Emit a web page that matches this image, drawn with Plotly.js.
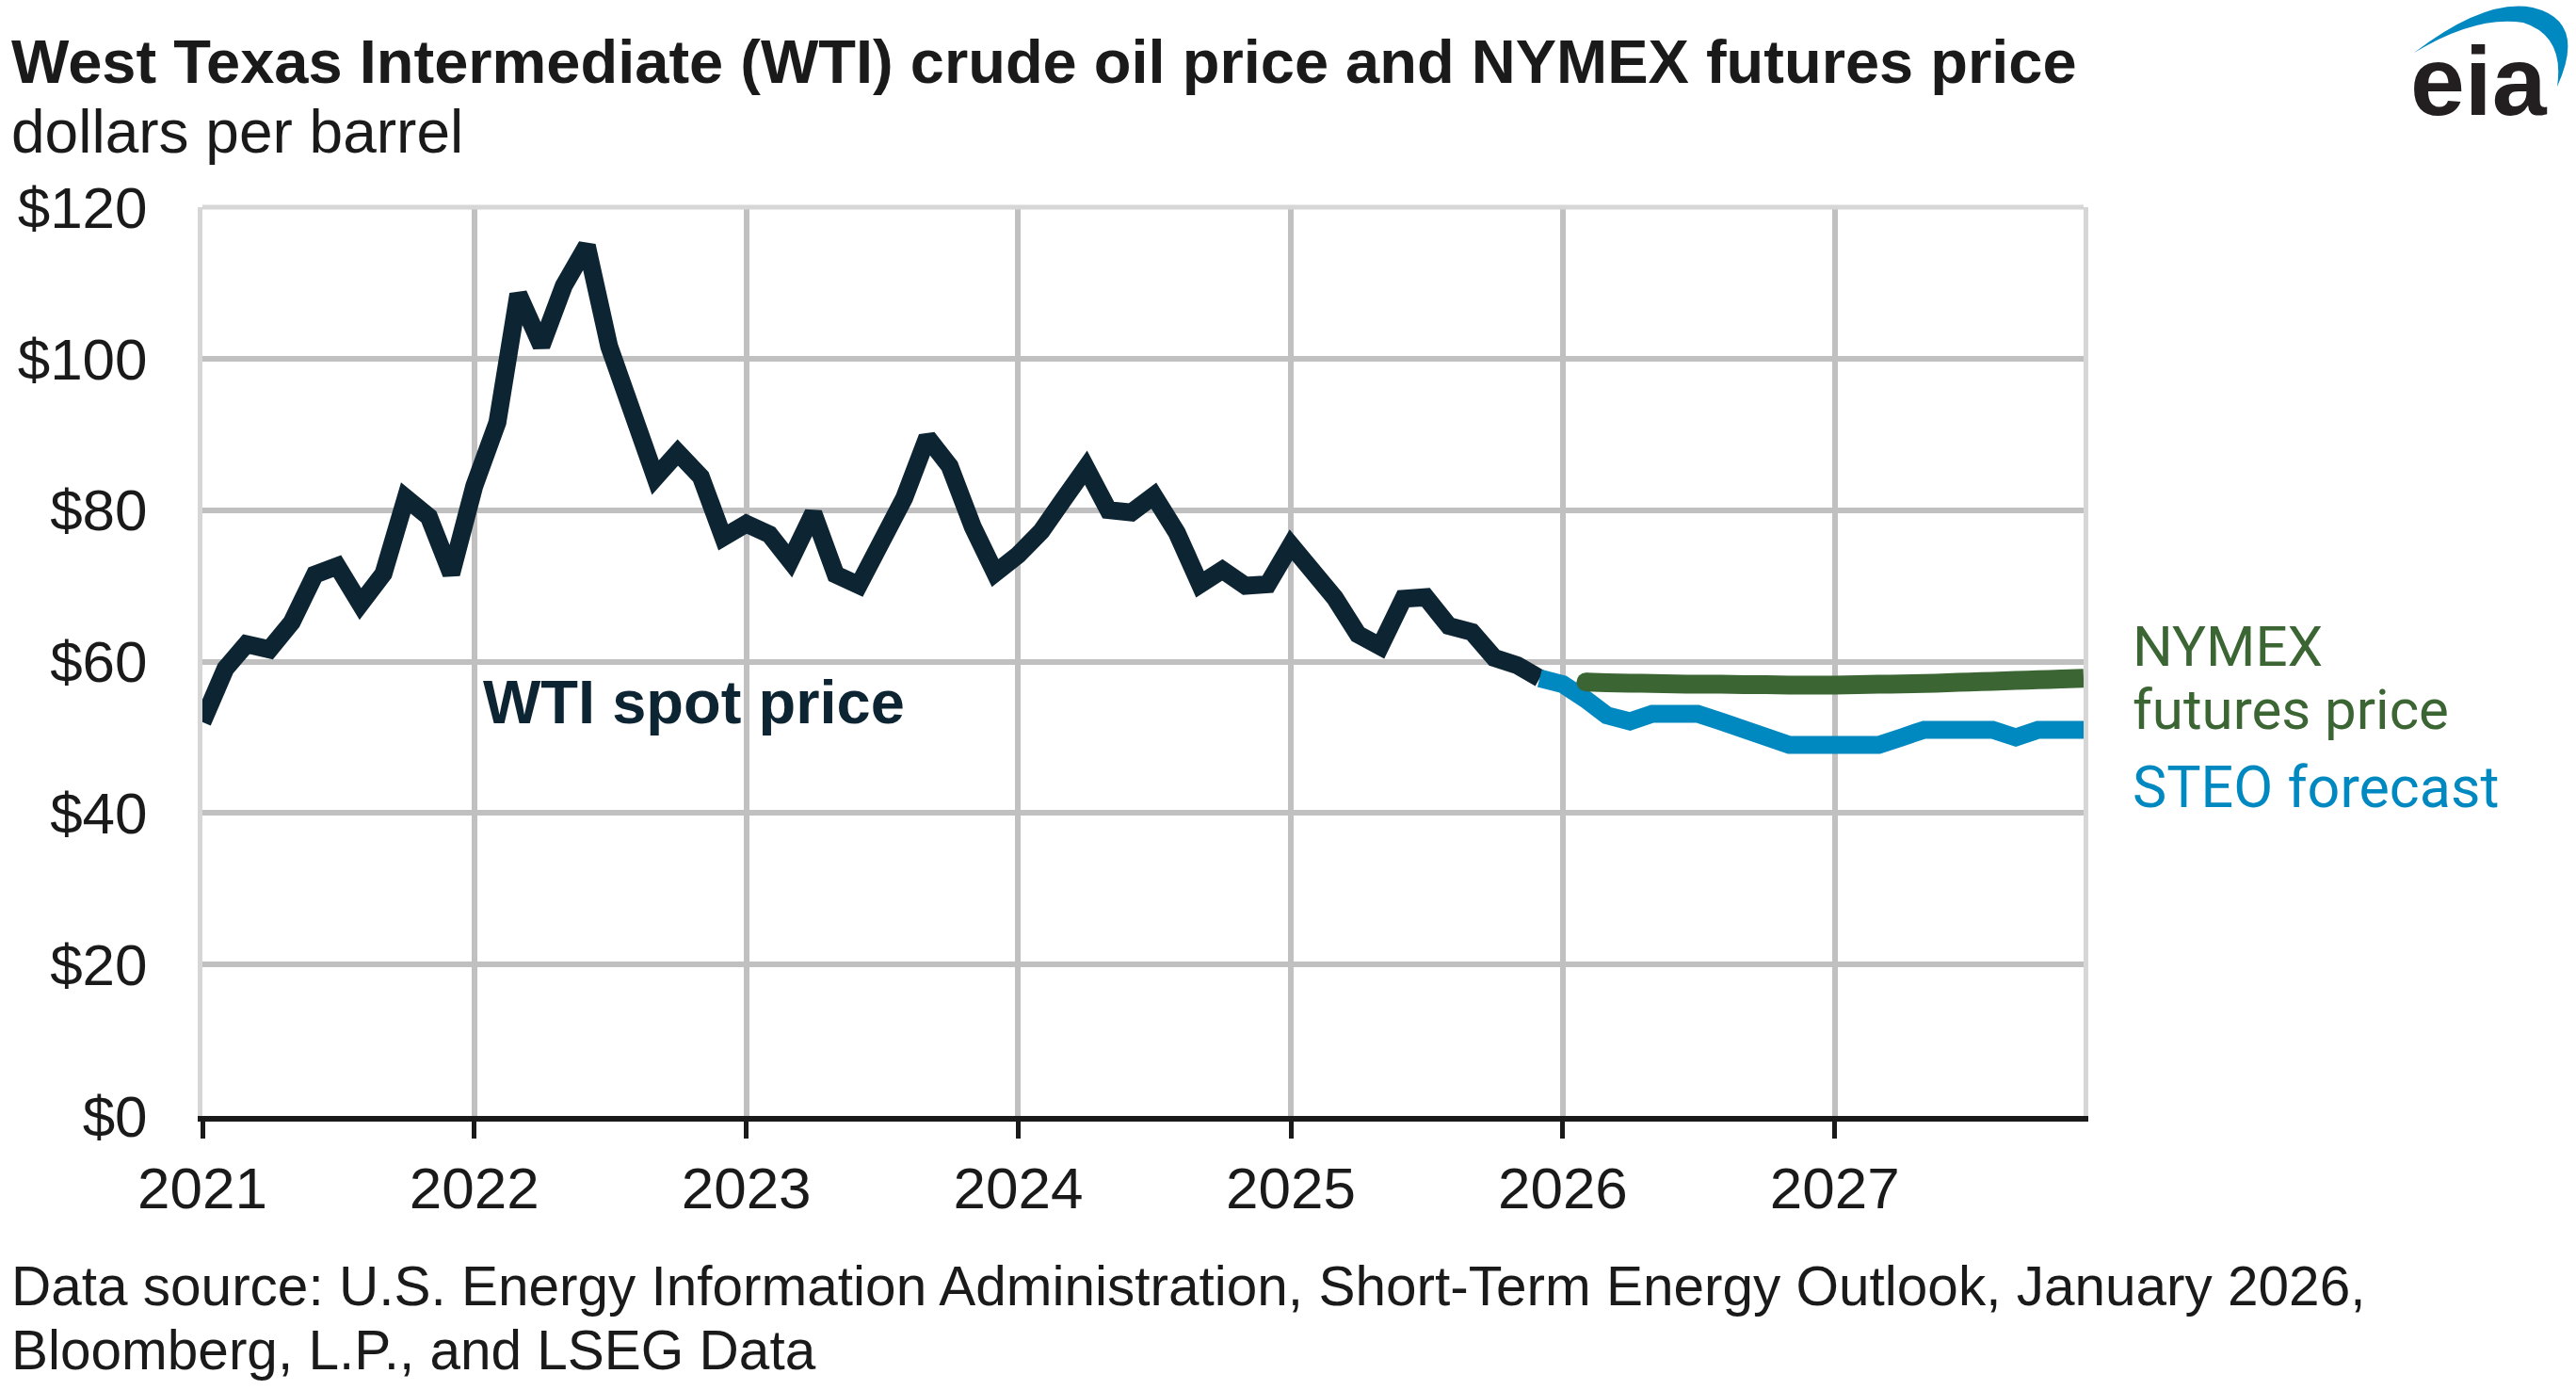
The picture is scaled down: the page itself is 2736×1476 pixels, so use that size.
<!DOCTYPE html>
<html>
<head>
<meta charset="utf-8">
<script src="https://cdn.plot.ly/plotly-3.0.1.min.js"></script>
<style>
  html, body { margin: 0; padding: 0; background: #fff; }
  #plot { width: 2736px; height: 1476px; }
</style>
</head>
<body>
<div id="plot"></div>
<script>
/* global Plotly */

// monthly averages, dollars per barrel
const wtiSpot = [
  52.0, 59.1, 62.3, 61.6, 65.2, 71.5, 72.6, 67.6, 71.6, 81.6, 79.1, 71.6, // 2021
  83.2, 91.6, 108.5, 101.7, 109.6, 114.9, 101.6, 93.6, 84.3, 87.6, 84.4, 76.4, // 2022
  78.2, 76.8, 73.3, 79.6, 71.5, 70.1, 75.9, 81.6, 89.6, 85.8, 77.8, 71.7, // 2023
  74.1, 77.2, 81.3, 85.6, 80.0, 79.7, 81.9, 77.0, 70.2, 72.1, 70.0, 70.2, // 2024
  75.4, 71.6, 68.4, 63.6, 62.0, 68.3, 68.5, 64.7, 63.9, 60.5, 59.5, 57.8, // 2025
];
// Dec 2025 - Dec 2027
const steoForecast = [
  57.8,
  57.0, 55.0, 52.9, 52.1, 53.1, 53.1, 53.1, 52.1, 51.0, 50.0, 49.0, 49.0,
  49.0, 49.0, 49.0, 50.0, 51.0, 51.0, 51.0, 51.0, 50.0, 51.0, 51.0, 51.0,
];
// Feb 2026 - Dec 2027
const nymexFutures = [
  57.3, 57.2, 57.15, 57.1, 57.05, 57.0, 57.0, 56.95, 56.95, 56.9, 56.9,
  56.9, 56.95, 57.0, 57.05, 57.1, 57.2, 57.3, 57.4, 57.5, 57.6, 57.7, 57.8,
];
const yearTicks = ['2021', '2022', '2023', '2024', '2025', '2026', '2027'];

const titleText = 'West Texas Intermediate (WTI) crude oil price and NYMEX futures price';
const subtitleText = 'dollars per barrel';
const sourceLines = [
  'Data source: U.S. Energy Information Administration, Short-Term Energy Outlook, January 2026,',
  'Bloomberg, L.P., and LSEG Data',
];

function monthSeries(year, month, count) {
  const out = [];
  for (let i = 0; i < count; i++) {
    const m = month - 1 + i;
    const y = year + Math.floor(m / 12);
    out.push(`${y}-${String((m % 12) + 1).padStart(2, '0')}-01`);
  }
  return out;
}

const W = 2736;
const H = 1476;
const margin = { l: 215, r: 523, t: 220, b: 291 };
const plotW = W - margin.l - margin.r;
const plotH = H - margin.t - margin.b;
const px = (x) => (x - margin.l) / plotW;
const py = (y) => 1 - (y - margin.t) / plotH;

const FONT = 'Liberation Sans, Arial, sans-serif';
const LABEL_FONT = 'Roboto, Liberation Sans, sans-serif';
const INK = '#1a1a1a';
const NAVY = '#0d2432';
const GREEN = '#3b6634';
const BLUE = '#0088c0';
const GRID = '#c0c0c0';

const nymexDates = monthSeries(2026, 2, nymexFutures.length);

const data = [
  {
    x: monthSeries(2021, 1, wtiSpot.length),
    y: wtiSpot,
    mode: 'lines',
    type: 'scatter',
    line: { color: NAVY, width: 19 },
  },
  {
    x: monthSeries(2025, 12, steoForecast.length),
    y: steoForecast,
    mode: 'lines',
    type: 'scatter',
    line: { color: BLUE, width: 19 },
  },
  {
    x: nymexDates,
    y: nymexFutures,
    mode: 'lines',
    type: 'scatter',
    line: { color: GREEN, width: 20, shape: 'spline', smoothing: 0.6 },
  },
  // round cap at the start of the futures curve
  {
    x: nymexDates.slice(0, 1),
    y: nymexFutures.slice(0, 1),
    mode: 'markers',
    type: 'scatter',
    marker: { color: GREEN, size: 20 },
  },
];

function note(text, x, y, size, color, opts = {}) {
  return {
    text,
    xref: 'paper',
    yref: 'paper',
    x: px(x),
    y: py(y),
    xanchor: opts.xanchor || 'left',
    yanchor: 'middle',
    showarrow: false,
    align: 'left',
    font: { family: opts.family || FONT, size, color, weight: opts.weight || 'normal' },
  };
}

const annotations = [
  note(titleText, 10, 65, 65, INK, { weight: 'bold' }),
  note(subtitleText, 10, 140, 64, INK),
  note('WTI spot price', 511, 745, 65, NAVY, { weight: 'bold' }),
  note('NYMEX', 2263, 686, 60, GREEN, { family: LABEL_FONT }),
  note('futures price', 2263, 753, 60, GREEN, { family: LABEL_FONT }),
  note('STEO forecast', 2263, 836, 61, BLUE, { family: LABEL_FONT }),
  note(sourceLines[0], 10, 1365, 58.5, INK),
  note(sourceLines[1], 10, 1433, 58.5, INK),
  note('eia', 2633, 86, 104, '#231f20', { weight: 'bold', xanchor: 'center' }),
];

// eia swoosh
const swoosh = [
  `M ${px(2564)} ${py(56)}`,
  `Q ${px(2640)} ${py(-2)} ${px(2690)} ${py(8)}`,
  `Q ${px(2748)} ${py(22)} ${px(2716)} ${py(92)}`,
  `Q ${px(2724)} ${py(38)} ${px(2680)} ${py(24)}`,
  `Q ${px(2630)} ${py(16)} ${px(2564)} ${py(56)} Z`,
].join(' ');

const layout = {
  width: W,
  height: H,
  margin,
  paper_bgcolor: '#fff',
  plot_bgcolor: '#fff',
  showlegend: false,
  hovermode: false,
  font: { family: FONT, color: INK, size: 62 },
  xaxis: {
    type: 'date',
    range: ['2021-01-01', '2027-12-01'],
    tickvals: yearTicks.map((y) => `${y}-01-01`),
    ticktext: yearTicks,
    showgrid: true,
    gridcolor: GRID,
    gridwidth: 6,
    showline: true,
    linecolor: INK,
    linewidth: 6,
    ticks: 'outside',
    ticklen: 18,
    tickwidth: 5,
    tickcolor: INK,
    ticklabelstandoff: 0,
    tickfont: { size: 62, color: INK },
    zeroline: false,
    fixedrange: true,
  },
  yaxis: {
    range: [0, 120],
    dtick: 20,
    tickprefix: '$',
    showgrid: true,
    gridcolor: GRID,
    gridwidth: 6,
    showline: true,
    mirror: true,
    linecolor: '#d6d6d6',
    linewidth: 5,
    ticks: '',
    ticklabelstandoff: 41,
    tickfont: { size: 62, color: INK },
    zeroline: false,
    layer: 'below traces',
    fixedrange: true,
  },
  shapes: [
    {
      type: 'line',
      xref: 'paper',
      yref: 'paper',
      x0: 0,
      x1: 1,
      y0: 1,
      y1: 1,
      line: { color: '#d6d6d6', width: 5 },
    },
    {
      type: 'path',
      xref: 'paper',
      yref: 'paper',
      path: swoosh,
      fillcolor: BLUE,
      line: { width: 0 },
    },
  ],
  annotations,
};

Plotly.newPlot('plot', data, layout, { staticPlot: true, displayModeBar: false });
</script>
</body>
</html>
